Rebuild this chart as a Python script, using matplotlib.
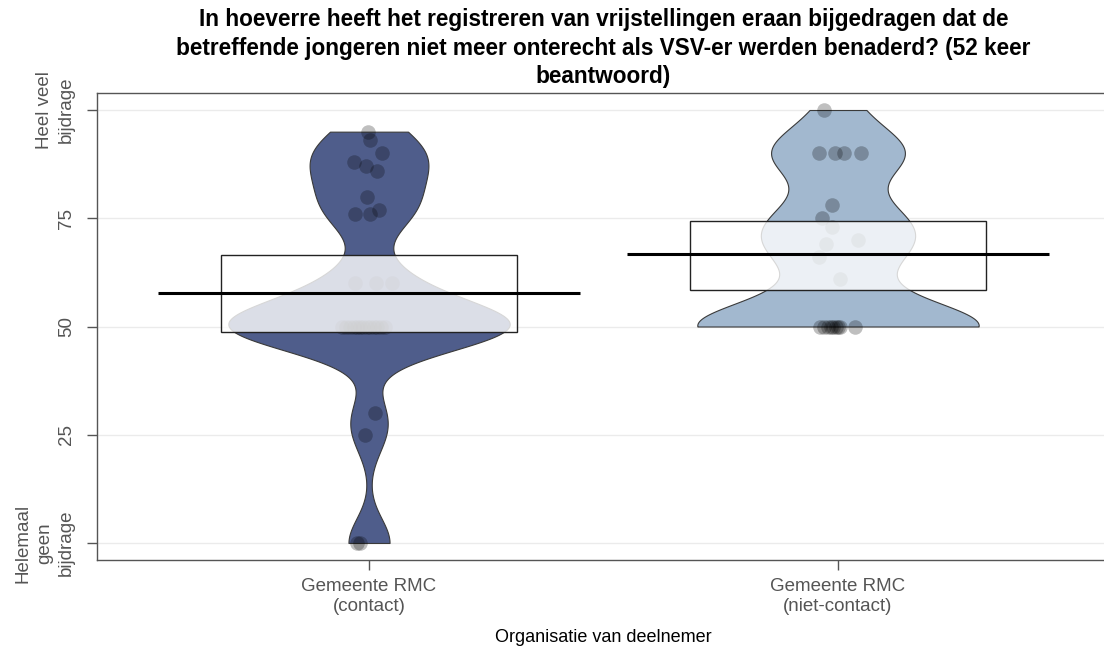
import matplotlib
matplotlib.use("Agg")
import matplotlib.pyplot as plt
from matplotlib.patches import Rectangle
import numpy as np

plt.rcParams["font.family"] = ["Liberation Sans", "DejaVu Sans"]

# responses per group (0 = geen bijdrage, 100 = heel veel bijdrage)
groups = ["Gemeente RMC\n(contact)", "Gemeente RMC\n(niet-contact)"]
contact = [95, 93, 90, 88, 87, 86, 80, 77, 76, 76,
           60, 60, 60,
           50, 50, 50, 50, 50, 50, 50, 50, 50, 50, 50, 50, 50,
           30, 25, 0, 0]
contact_jit = [-0.002, 0.002, 0.027, -0.032, -0.006, 0.016, -0.005, 0.021, -0.030, 0.002,
               -0.030, 0.015, 0.048,
               -0.057, -0.048, -0.040, -0.033, -0.026, -0.019, -0.012, -0.005, 0.002,
               0.010, 0.018, 0.026, 0.034,
               0.013, -0.009, -0.025, -0.020]
niet_contact = [100, 90, 90, 90, 90, 78, 75, 73, 70, 69, 66, 61,
                50, 50, 50, 50, 50, 50, 50, 50, 50]
niet_contact_jit = [-0.030, -0.041, -0.006, 0.013, 0.049, -0.013, -0.034, -0.013, 0.043,
                    -0.026, -0.041, 0.004,
                    -0.038, -0.030, -0.022, -0.015, -0.010, -0.005, 0.000, 0.005, 0.036]
# inference band (lower, upper) around the mean
band_lo = [48.7, 58.4]
band_hi = [66.5, 74.3]

bean_cols = ["#4f5d8b", "#a2b8cf"]
yticks = [0, 25, 50, 75, 100]
ylabels = ["Helemaal\ngeen\nbijdrage", "25", "50", "75", "Heel veel\nbijdrage"]
TICK_GREY = "#555555"
BW = 5.7          # kernel bandwidth for the beans
BEAN_W = 0.30     # max half-width of a bean


def kde(vals, grid, bw=BW):
    v = np.asarray(vals, float)
    z = (grid[:, None] - v[None, :]) / bw
    return np.exp(-0.5 * z ** 2).sum(axis=1)


fig = plt.figure(figsize=(11.04, 6.5), dpi=100)
ax = fig.add_axes([97 / 1104, 90 / 650, 1013 / 1104, 467 / 650])

data = [contact, niet_contact]
jits = [contact_jit, niet_contact_jit]
for i, (vals, jit) in enumerate(zip(data, jits)):
    xc = i + 1
    ys = np.linspace(min(vals), max(vals), 400)
    d = kde(vals, ys)
    hw = d / d.max() * BEAN_W
    ax.fill_betweenx(ys, xc - hw, xc + hw, facecolor=bean_cols[i],
                     edgecolor="#3a3a3a", lw=0.8, zorder=2)
    ax.scatter(xc + np.array(jit), vals, s=110, color="black", alpha=0.25,
               lw=0, zorder=3)
    ax.add_patch(Rectangle((xc - 0.315, band_lo[i]), 0.63, band_hi[i] - band_lo[i],
                           facecolor=(1, 1, 1, 0.8), edgecolor="#222222",
                           lw=1.0, zorder=4))
    m = np.mean(vals)
    ax.plot([xc - 0.45, xc + 0.45], [m, m], color="black", lw=2.2, zorder=5,
            solid_capstyle="butt")

ax.set_xlim(0.42, 2.58)
ax.set_ylim(-3.93, 103.93)
ax.yaxis.grid(True, color="#ebebeb", lw=1)
ax.set_axisbelow(True)
for s in ax.spines.values():
    s.set_color(TICK_GREY)
    s.set_linewidth(1.0)

ax.set_xticks([1, 2])
ax.set_xticklabels(groups, fontsize=13.5, color=TICK_GREY)
ax.set_yticks(yticks)
ax.set_yticklabels(ylabels, fontsize=13.5, color=TICK_GREY, rotation=90,
                   va="center", multialignment="center", linespacing=1.35)
ax.tick_params(axis="both", length=7, color=TICK_GREY, width=1)
ax.tick_params(axis="x", pad=6)
ax.tick_params(axis="y", pad=9)

ax.set_xlabel("Organisatie van deelnemer", fontsize=13, labelpad=10)
ax.set_title("In hoeverre heeft het registreren van vrijstellingen eraan bijgedragen dat de\n"
             "betreffende jongeren niet meer onterecht als VSV-er werden benaderd? (52 keer\n"
             "beantwoord)", fontsize=16.3, fontweight="bold", pad=7, linespacing=1.3)

fig.savefig("out.png", dpi=100, facecolor="white")
